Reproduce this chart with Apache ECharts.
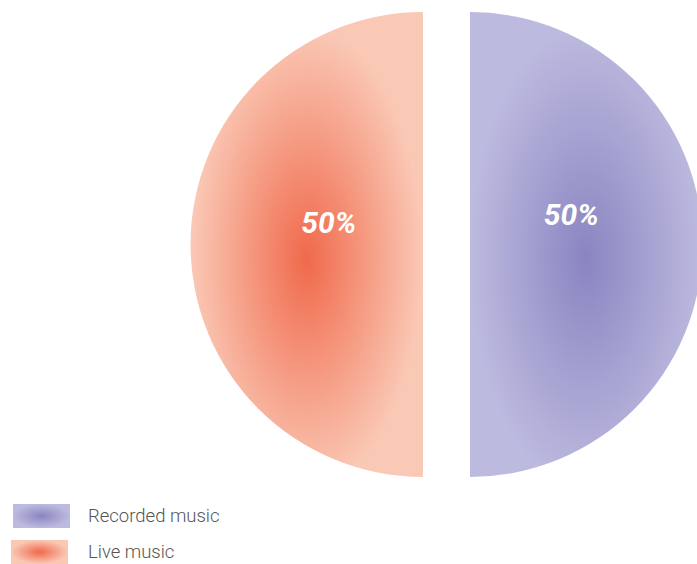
<!DOCTYPE html>
<html>
<head>
<meta charset="utf-8">
<style>
html,body{margin:0;padding:0;background:#fff;}
#chart{width:697px;height:564px;}
</style>
<script src="https://cdn.jsdelivr.net/npm/echarts@6/dist/echarts.min.js"></script>
</head>
<body>
<div id="chart"></div>
<script>
const categories = ['Recorded music', 'Live music'];
const values = [50, 50];
const centerColors = ['#8a85c1', '#f0694b'];
const edgeColors = ['#bdbadf', '#fac9b6'];

function grad(i, y) {
  return {
    type: 'radial', x: 0.5, y: y, r: 0.5,
    colorStops: [
      { offset: 0, color: centerColors[i] },
      { offset: 1, color: edgeColors[i] }
    ]
  };
}

// label shifts: horizontal via padding, vertical via an empty second line
const labelPads = [[0, 36, 0, 0], [0, 0, 0, 50]];
const labelLineHeights = [60, 44];
const legendPos = [[13, 504, 13], [11, 540, 15]];

function legendFor(i) {
  return {
    orient: 'vertical',
    left: legendPos[i][0],
    top: legendPos[i][1],
    padding: 0,
    itemWidth: 57,
    itemHeight: 24,
    selectedMode: false,
    icon: 'rect',
    textStyle: { fontFamily: 'Roboto', fontWeight: 300, fontSize: 18.5, color: '#555', padding: [0, 0, 0, legendPos[i][2]] },
    data: [{ name: categories[i], icon: 'rect', itemStyle: { color: grad(i, 0.5) } }]
  };
}

const chart = echarts.init(document.getElementById('chart'), null, { renderer: 'svg' });
chart.setOption({
  animation: false,
  legend: [legendFor(0), legendFor(1)],
  series: [{
    type: 'pie',
    center: [446.5, 244.5],
    radius: 232.5,
    startAngle: 90,
    clockwise: true,
    selectedMode: 'multiple',
    selectedOffset: 23.5,
    emphasis: { disabled: true, scale: false },
    select: { itemStyle: { borderWidth: 0 } },
    label: {
      show: true,
      position: 'inside',
      formatter: '{d}%\n',
      color: '#fff',
      fontFamily: 'Roboto',
      fontWeight: 'bold',
      fontStyle: 'italic',
      fontSize: 30
    },
    labelLine: { show: false },
    data: categories.map((c, i) => ({
      name: c,
      value: values[i],
      selected: true,
      itemStyle: { color: grad(i, 0.53) },
      select: { itemStyle: { color: grad(i, 0.53), borderWidth: 0 } },
      label: { padding: labelPads[i], lineHeight: labelLineHeights[i] }
    }))
  }]
});
</script>
</body>
</html>
